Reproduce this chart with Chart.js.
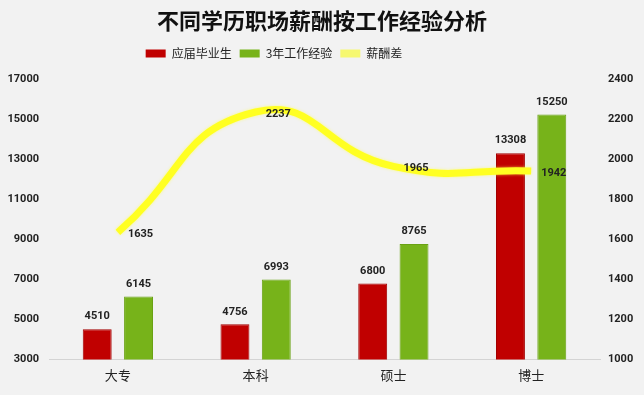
<!DOCTYPE html>
<html>
<head>
<meta charset="utf-8">
<script src="https://cdn.jsdelivr.net/npm/chart.js@4"></script>
<style>
  html, body { margin: 0; padding: 0; background: #f2f2f2; }
  #wrap { width: 644px; height: 395px; }
</style>
</head>
<body>
<div id="wrap"><canvas id="chart"></canvas></div>
<script>
// 不同学历职场薪酬按工作经验分析
const categories = ['大专', '本科', '硕士', '博士'];
const freshGrad = [4510, 4756, 6800, 13308];
const threeYears = [6145, 6993, 8765, 15250];
const payGap = [1635, 2237, 1965, 1942];
const leftTicks = [3000, 5000, 7000, 9000, 11000, 13000, 15000, 17000];
const rightTicks = [1000, 1200, 1400, 1600, 1800, 2000, 2200, 2400];

const FONT = '"Noto Sans CJK SC", "Noto Sans", sans-serif';
const NUM_FONT = 'Roboto, "Noto Sans", sans-serif';

// value labels: above bars, right of line points
const valueLabels = {
  id: 'valueLabels',
  afterDatasetsDraw(chart) {
    const ctx = chart.ctx;
    ctx.save();
    ctx.font = 'bold 11px ' + NUM_FONT;
    ctx.fillStyle = '#222';
    chart.data.datasets.forEach((ds, i) => {
      const meta = chart.getDatasetMeta(i);
      meta.data.forEach((el, j) => {
        const v = ds.data[j];
        if (ds.type === 'line') {
          ctx.textAlign = 'left';
          ctx.textBaseline = 'middle';
          ctx.fillText(v, el.x + 10, el.y + 2);
        } else {
          ctx.textAlign = 'center';
          ctx.textBaseline = 'bottom';
          ctx.fillText(v, el.x, el.y - 7);
        }
      });
    });
    ctx.restore();
  }
};

// soft glow on the yellow line
const lineGlow = {
  id: 'lineGlow',
  beforeDatasetDraw(chart, args) {
    if (chart.data.datasets[args.index].type !== 'line') return;
    chart.ctx.save();
    chart.ctx.shadowColor = 'rgba(255,255,80,0.7)';
    chart.ctx.shadowBlur = 3;
  },
  afterDatasetDraw(chart, args) {
    if (chart.data.datasets[args.index].type !== 'line') return;
    chart.ctx.restore();
  }
};

// extra gap under the legend, and legend sits a bit left of centre
const legendGap = {
  id: 'legendGap',
  beforeInit(chart) {
    const fit = chart.legend.fit;
    chart.legend.fit = function () {
      fit.call(this);
      this.height += 10;
      if (this.lineWidths && this.lineWidths.length) this.lineWidths[0] += 96;
    };
  }
};

new Chart(document.getElementById('chart'), {
  type: 'bar',
  data: {
    labels: categories,
    datasets: [
      {
        label: '应届毕业生',
        data: freshGrad,
        backgroundColor: '#c00000',
        borderColor: '#a30000',
        borderWidth: 1,
        yAxisID: 'y',
        order: 1,
        categoryPercentage: 0.6,
        barPercentage: 0.7,
      },
      {
        label: '3年工作经验',
        data: threeYears,
        backgroundColor: '#77b31a',
        borderColor: '#6aa214',
        borderWidth: 1,
        yAxisID: 'y',
        order: 1,
        categoryPercentage: 0.6,
        barPercentage: 0.7,
      },
      {
        type: 'line',
        label: '薪酬差',
        data: payGap,
        borderColor: '#ffff22',
        backgroundColor: '#f6f870',
        borderWidth: 7,
        tension: 0.5,
        pointRadius: 0,
        yAxisID: 'y1',
        order: 0,
      }
    ]
  },
  options: {
    responsive: true,
    maintainAspectRatio: false,
    animation: false,
    layout: { padding: { left: 0, right: 0, top: 0, bottom: 4 } },
    plugins: {
      title: {
        display: true,
        text: '不同学历职场薪酬按工作经验分析',
        color: '#111',
        font: { size: 22, weight: 'bold', family: FONT },
        padding: { top: 7, bottom: 6 }
      },
      legend: {
        display: true,
        position: 'top',
        labels: {
          color: '#222',
          font: { size: 12, family: FONT },
          boxWidth: 20,
          boxHeight: 8,
          padding: 8,
          sort: (a, b) => a.datasetIndex - b.datasetIndex,
          generateLabels: chart => Chart.defaults.plugins.legend.labels.generateLabels(chart)
            .map(item => Object.assign(item, { lineWidth: 0 }))
        }
      },
      tooltip: { enabled: false }
    },
    scales: {
      x: {
        grid: { display: false, drawTicks: false },
        border: { display: true, color: '#d4d4d4', width: 1 },
        ticks: { color: '#222', font: { size: 13, family: FONT }, padding: 8 }
      },
      y: {
        position: 'left',
        min: 3000,
        max: 17000,
        afterBuildTicks: axis => { axis.ticks = leftTicks.map(v => ({ value: v })); },
        grid: { display: false, drawTicks: false },
        border: { display: false },
        ticks: {
          color: '#222', font: { size: 11, weight: 'bold', family: NUM_FONT }, padding: 10,
          callback: v => String(v)
        },
        afterFit: axis => { axis.width = 49; }
      },
      y1: {
        position: 'right',
        min: 1000,
        max: 2400,
        afterBuildTicks: axis => { axis.ticks = rightTicks.map(v => ({ value: v })); },
        grid: { display: false, drawTicks: false },
        border: { display: false },
        ticks: {
          color: '#222', font: { size: 11, weight: 'bold', family: NUM_FONT }, padding: 8,
          callback: v => String(v)
        },
        afterFit: axis => { axis.width = 44; }
      }
    }
  },
  plugins: [valueLabels, lineGlow, legendGap]
});
</script>
</body>
</html>
